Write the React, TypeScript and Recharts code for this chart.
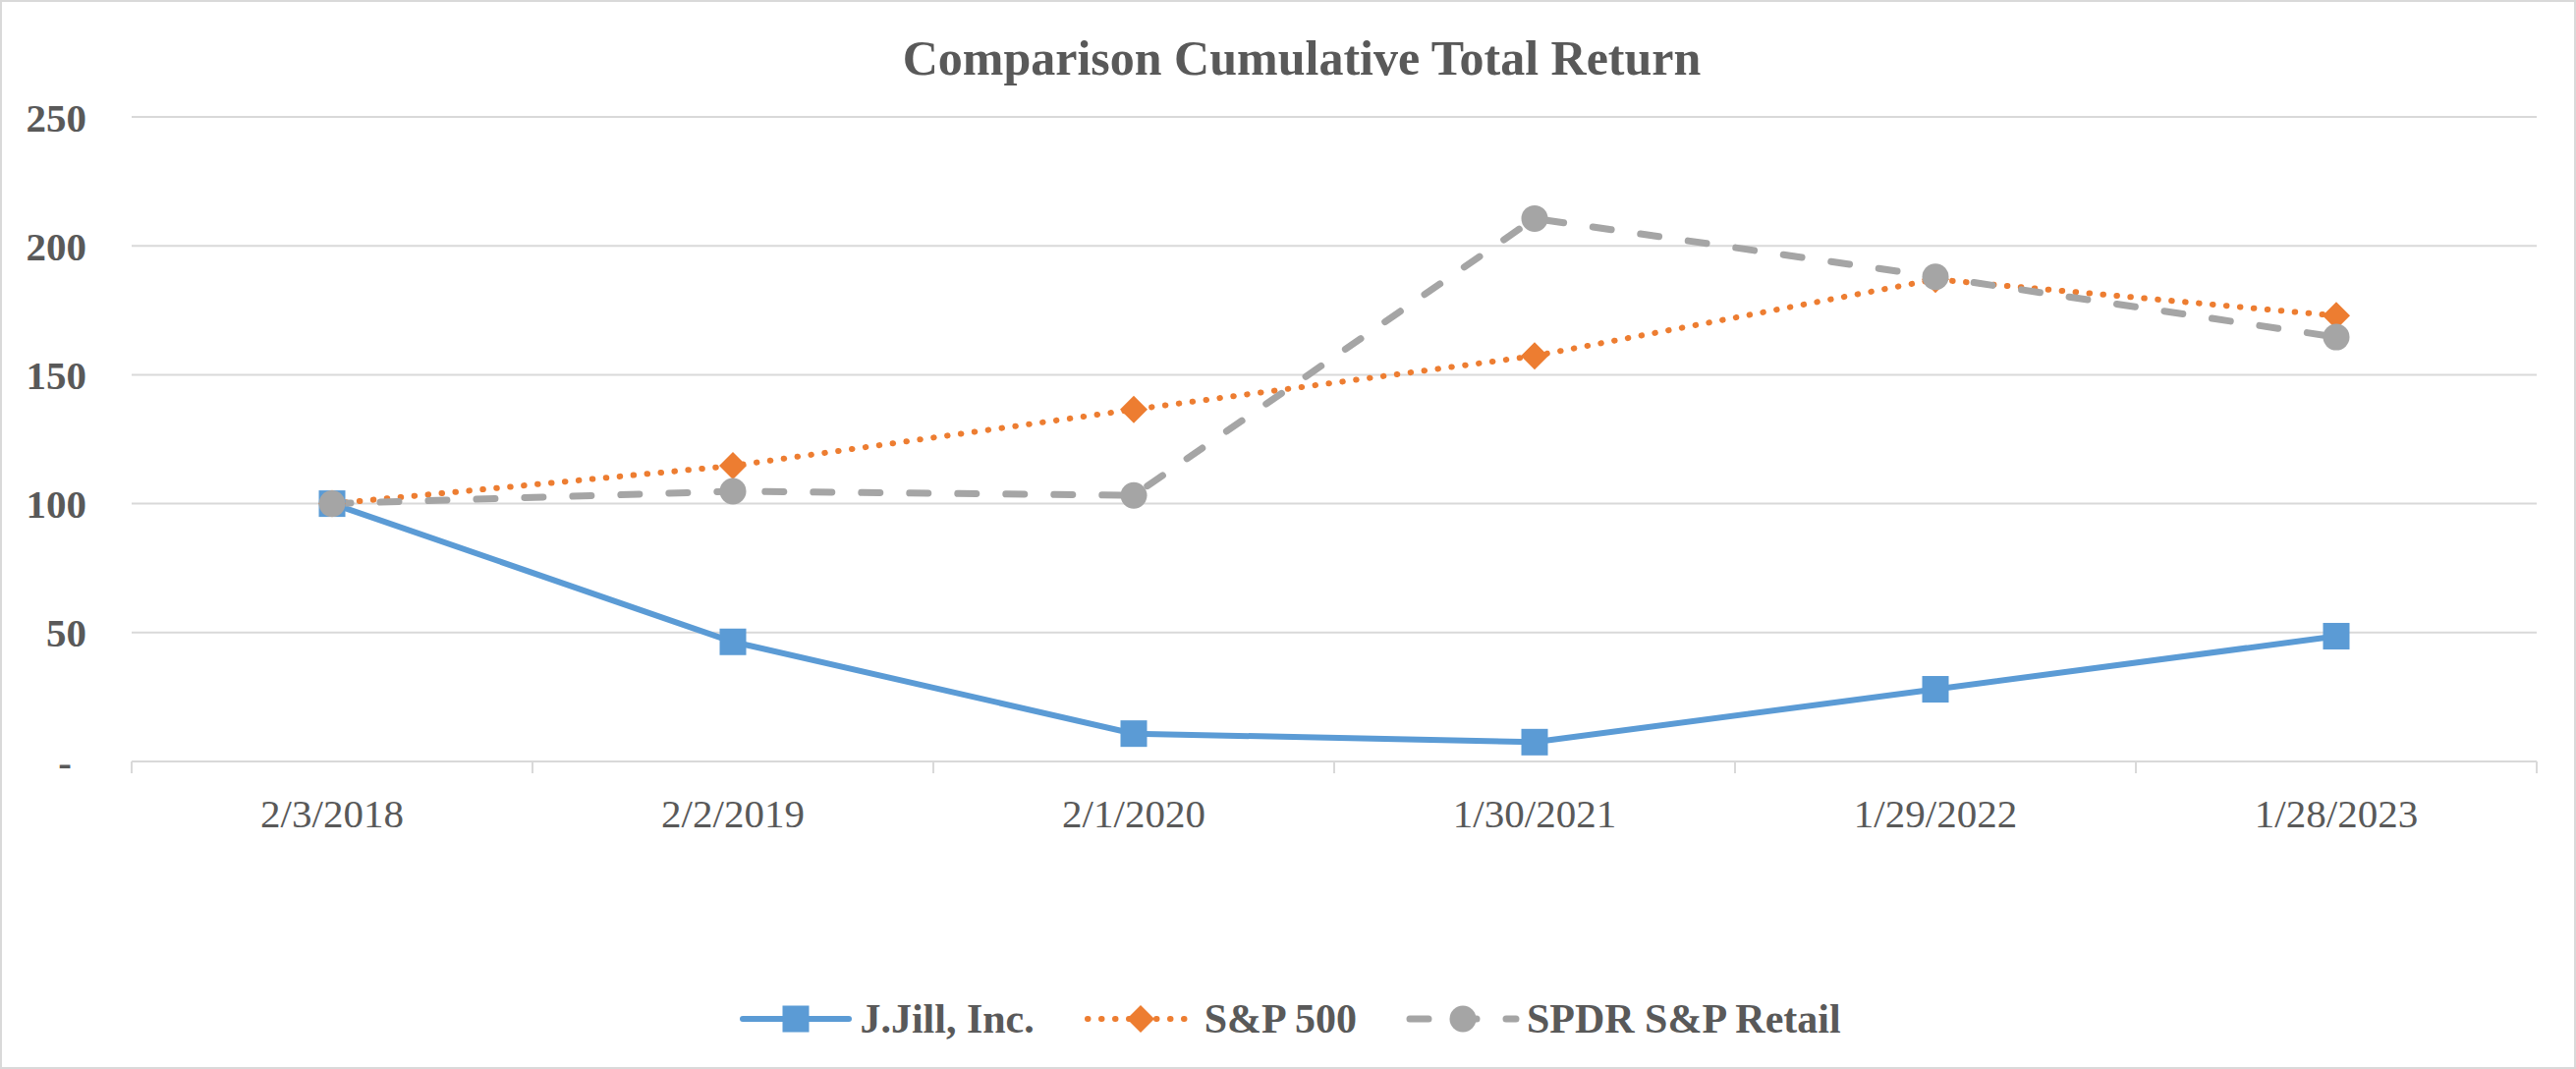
import React from "react";
import { LineChart, Line, XAxis, YAxis, CartesianGrid, Legend } from "recharts";

const categories = ["2/3/2018", "2/2/2019", "2/1/2020", "1/30/2021", "1/29/2022", "1/28/2023"];
const jjill = [100, 46.4, 10.8, 7.5, 28, 48.6];
const sp500 = [100, 114.7, 136.5, 157.3, 187, 172.9];
const spdrRetail = [100, 104.8, 103.2, 210.6, 188, 164.6];
const yTicks = [0, 50, 100, 150, 200, 250];

const data = categories.map((date, i) => ({
  date,
  jjill: jjill[i],
  sp500: sp500[i],
  spdr: spdrRetail[i],
}));

const FONT = "'Liberation Serif', 'Times New Roman', serif";
const TEXT = "#595959";
const GRID = "#d9d9d9";
const BLUE = "#5b9bd5";
const ORANGE = "#ed7d31";
const GREY = "#a5a5a5";

const TICK_MARGIN = 38;
const TICK_LEN = 12;

const SquareDot = (props: any) => {
  const { cx, cy } = props;
  if (cx == null || cy == null) return null;
  return <rect x={cx - 13.5} y={cy - 13.5} width={27} height={27} fill={BLUE} />;
};

const DiamondDot = (props: any) => {
  const { cx, cy } = props;
  if (cx == null || cy == null) return null;
  return (
    <polygon
      points={`${cx},${cy - 14} ${cx + 14},${cy} ${cx},${cy + 14} ${cx - 14},${cy}`}
      fill={ORANGE}
    />
  );
};

const CircleDot = (props: any) => {
  const { cx, cy } = props;
  if (cx == null || cy == null) return null;
  return <circle cx={cx} cy={cy} r={13.5} fill={GREY} />;
};

const YTick = (props: any) => {
  const { x, y, payload } = props;
  const zero = payload.value === 0;
  return (
    <text
      x={zero ? x - 15 : x}
      y={y}
      dy="0.355em"
      textAnchor="end"
      fill={TEXT}
      fontSize={41}
      fontWeight="bold"
      fontFamily={FONT}
    >
      {zero ? "-" : payload.value}
    </text>
  );
};

// category label plus Excel-style tick marks on the band edges
const XTick = (props: any) => {
  const { x, y, payload, index, visibleTicksCount } = props;
  const half = payload.offset || 0;
  const top = y - TICK_MARGIN;
  const isLast = index === visibleTicksCount - 1;
  return (
    <g>
      <line x1={x - half} x2={x - half} y1={top} y2={top + TICK_LEN} stroke={GRID} strokeWidth={2} />
      {isLast && (
        <line x1={x + half} x2={x + half} y1={top} y2={top + TICK_LEN} stroke={GRID} strokeWidth={2} />
      )}
      <text x={x} y={y} dy="0.71em" textAnchor="middle" fill={TEXT} fontSize={41} fontFamily={FONT}>
        {payload.value}
      </text>
    </g>
  );
};

const legendItems = [
  { label: "J.Jill, Inc.", color: BLUE, dash: undefined, width: 6, marker: "square" },
  { label: "S&P 500", color: ORANGE, dash: "0.5 13.5", width: 6, marker: "diamond" },
  { label: "SPDR S&P Retail", color: GREY, dash: "19 30", width: 7, marker: "circle" },
];

const renderLegend = () => (
  <div
    style={{
      height: 60,
      paddingLeft: 44,
      display: "flex",
      justifyContent: "center",
      alignItems: "center",
      fontFamily: FONT,
      fontSize: 42,
      fontWeight: "bold",
      color: TEXT,
    }}
  >
    {legendItems.map((item, i) => (
      <div key={item.label} style={{ display: "flex", alignItems: "center", marginLeft: i === 0 ? 0 : 50 }}>
        <svg width={116} height={30} style={{ marginRight: 7 }}>
          <line
            x1={4}
            y1={15}
            x2={112}
            y2={15}
            stroke={item.color}
            strokeWidth={item.width}
            strokeDasharray={item.dash}
            strokeLinecap="round"
          />
          {item.marker === "square" && <rect x={44.5} y={1.5} width={27} height={27} fill={item.color} />}
          {item.marker === "diamond" && <polygon points="58,1 72,15 58,29 44,15" fill={item.color} />}
          {item.marker === "circle" && <circle cx={58} cy={15} r={13.5} fill={item.color} />}
        </svg>
        <span style={{ lineHeight: "60px" }}>{item.label}</span>
      </div>
    ))}
  </div>
);

export default function App() {
  return (
    <div
      style={{
        position: "absolute",
        left: 0,
        top: 0,
        width: 2622,
        height: 1088,
        background: "#fff",
        boxShadow: `inset 0 0 0 2px ${GRID}`,
      }}
    >
      <div
        style={{
          position: "absolute",
          top: 34,
          left: 0,
          width: 2650,
          textAlign: "center",
          fontFamily: FONT,
          fontSize: 50,
          lineHeight: "50px",
          fontWeight: "bold",
          color: TEXT,
        }}
      >
        Comparison Cumulative Total Return
      </div>
      <LineChart
        width={2622}
        height={1088}
        data={data}
        margin={{ top: 119, right: 40, left: 0, bottom: 21 }}
        style={{ fontFamily: FONT }}
      >
        <CartesianGrid vertical={false} stroke={GRID} strokeWidth={2} />
        <XAxis
          dataKey="date"
          scale="band"
          height={232}
          axisLine={{ stroke: GRID, strokeWidth: 2 }}
          tickLine={false}
          tickSize={0}
          tickMargin={TICK_MARGIN}
          interval={0}
          tick={<XTick />}
        />
        <YAxis
          domain={[0, 250]}
          ticks={yTicks}
          width={134}
          axisLine={false}
          tickLine={false}
          tickSize={0}
          tickMargin={46}
          tick={<YTick />}
        />
        <Legend verticalAlign="bottom" content={renderLegend} />
        <Line
          dataKey="jjill"
          name="J.Jill, Inc."
          stroke={BLUE}
          strokeWidth={6}
          dot={<SquareDot />}
          activeDot={false}
          isAnimationActive={false}
        />
        <Line
          dataKey="sp500"
          name="S&P 500"
          stroke={ORANGE}
          strokeWidth={6}
          strokeDasharray="0.5 13.5"
          strokeLinecap="round"
          dot={<DiamondDot />}
          activeDot={false}
          isAnimationActive={false}
        />
        <Line
          dataKey="spdr"
          name="SPDR S&P Retail"
          stroke={GREY}
          strokeWidth={7}
          strokeDasharray="19 30"
          strokeLinecap="round"
          dot={<CircleDot />}
          activeDot={false}
          isAnimationActive={false}
        />
      </LineChart>
    </div>
  );
}
